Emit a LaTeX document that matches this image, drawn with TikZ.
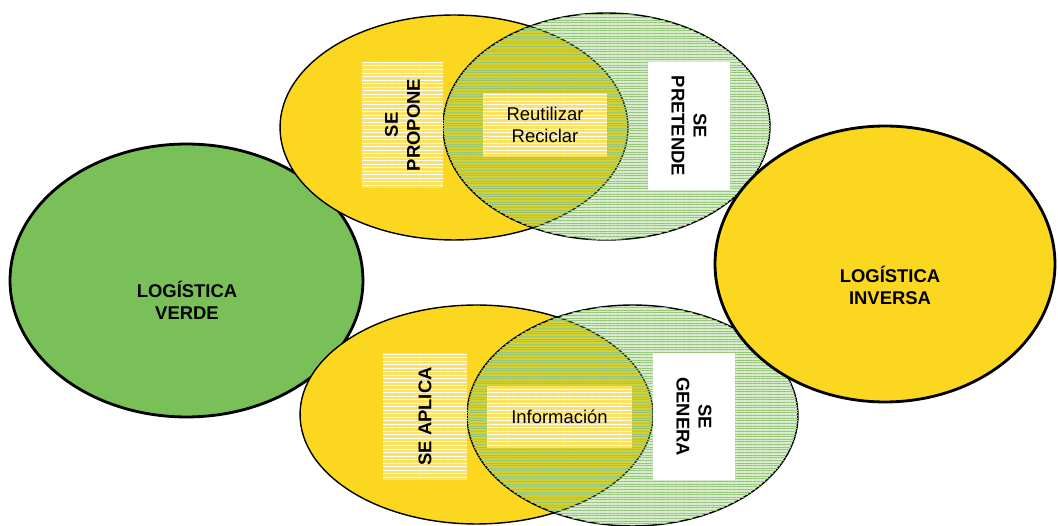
\documentclass[tikz,border=0pt]{standalone}
\usepackage{fontspec}
\setmainfont{Liberation Sans}
\usepackage{tikz}
\usetikzlibrary{shapes.geometric,patterns.meta}

\definecolor{amarillo}{RGB}{252,215,32}
\definecolor{verdeclaro}{RGB}{122,192,88}
\definecolor{rayado}{RGB}{150,196,120}
\definecolor{cajaclara}{RGB}{252,226,100}

\begin{document}
\begin{tikzpicture}[x=0.02cm,y=-0.02cm,
  font=\fontsize{10.5}{12.5}\selectfont,
  grande/.style={ellipse,draw,line width=1.6pt,inner sep=0pt},
  conjunto/.style={ellipse,draw,line width=0.8pt,inner sep=0pt},
  rayas/.style={fill=verdeclaro,fill opacity=0.3,
    postaction={pattern={Lines[angle=0,distance=1.5pt,line width=0.25pt]},pattern color=rayado}},
  caja/.style={fill=cajaclara,inner sep=0pt,align=center,
    postaction={pattern={Lines[angle=0,distance=2pt,line width=0.2pt]},pattern color=white}},
  cajablanca/.style={fill=white,inner sep=0pt,align=center}]
  \tikzstyle{titulo}=[align=center,font=\fontsize{10.5}{12.5}\selectfont\bfseries]
  \useasboundingbox (0,0) rectangle (1058,526);

  \node[grande,fill=verdeclaro,minimum width=7.06cm,minimum height=5.46cm] (verde) at (186.5,280.5) {};
  \node[titulo] (tverde) at (187,300) {LOGÍSTICA\\VERDE};

  % arriba
  \node[conjunto,fill=amarillo,minimum width=6.96cm,minimum height=4.5cm] (ya) at (454,127.5) {};
  \node[conjunto,rayas,minimum width=6.54cm,minimum height=4.54cm] (va) at (606.5,126.5) {};
  \node[caja,rotate=90,minimum width=2.52cm,minimum height=1.62cm,font=\fontsize{10.5}{12.5}\selectfont\bfseries] (propone) at (402.5,125) {SE\\PROPONE};
  \node[caja,minimum width=2.48cm,minimum height=1.28cm] (reutil) at (545,125) {Reutilizar\\Reciclar};
  \node[cajablanca,rotate=-90,minimum width=2.56cm,minimum height=1.64cm,font=\fontsize{10.5}{12.5}\selectfont\bfseries] (pretende) at (689,126) {SE\\PRETENDE};

  % abajo
  \node[conjunto,fill=amarillo,minimum width=7.06cm,minimum height=4.38cm] (yb) at (476.5,414.5) {};
  \node[conjunto,rayas,minimum width=6.62cm,minimum height=4.42cm] (vb) at (632.5,415.5) {};
  \node[caja,rotate=90,minimum width=2.54cm,minimum height=1.68cm,font=\fontsize{10.5}{12.5}\selectfont\bfseries] (aplica) at (425,416.5) {SE APLICA};
  \node[caja,minimum width=2.9cm,minimum height=1.24cm] (info) at (559.5,417) {Información};
  \node[cajablanca,rotate=-90,minimum width=2.54cm,minimum height=1.64cm,font=\fontsize{10.5}{12.5}\selectfont\bfseries] (genera) at (694,416.5) {SE\\GENERA};

  \node[grande,fill=amarillo,minimum width=6.8cm,minimum height=5.52cm] (inversa) at (885,264) {};
  \node[titulo] (tinversa) at (890,285) {LOGÍSTICA\\INVERSA};
\end{tikzpicture}
\end{document}
